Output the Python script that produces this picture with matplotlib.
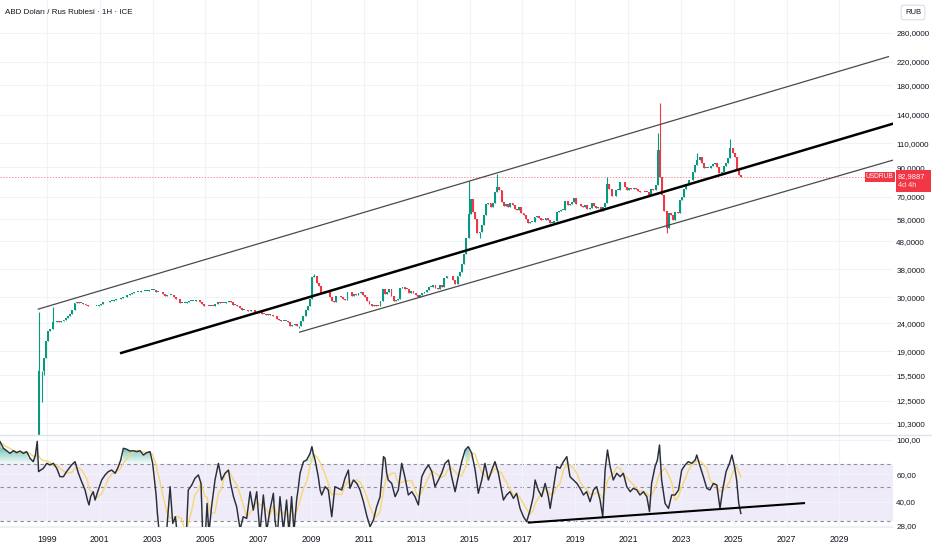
import numpy as np
import matplotlib
matplotlib.use("Agg")
import matplotlib.pyplot as plt
from matplotlib.lines import Line2D
from matplotlib.patches import Rectangle
from matplotlib.ticker import NullLocator

plt.rcParams['font.family'] = ['Liberation Sans', 'DejaVu Sans']

# ---------------- data ----------------
# USD/RUB monthly closes, Jan 1997 .. Apr 2025
monthly_close = [
    5.63, 5.68, 5.72, 5.76, 5.78, 5.79, 5.80, 5.83, 5.86, 5.89, 5.92, 5.96,      # 1997
    6.03, 6.07, 6.11, 6.13, 6.16, 6.20, 6.24, 7.90, 16.0, 16.0, 17.9, 20.7,      # 1998
    22.6, 22.9, 24.2, 24.2, 24.4, 24.2, 24.4, 24.7, 25.1, 25.6, 26.0, 27.0,      # 1999
    28.5, 28.7, 28.5, 28.5, 28.3, 28.1, 27.8, 27.75, 27.75, 27.85, 27.85, 28.16, # 2000
    28.4, 28.7, 28.7, 28.8, 29.1, 29.1, 29.3, 29.4, 29.4, 29.7, 29.9, 30.1,      # 2001
    30.5, 30.9, 31.1, 31.2, 31.3, 31.4, 31.5, 31.6, 31.6, 31.7, 31.8, 31.8,      # 2002
    31.8, 31.4, 31.4, 31.2, 30.8, 30.3, 30.4, 30.6, 30.6, 29.9, 29.6, 29.45,     # 2003
    28.5, 28.5, 28.5, 28.8, 29.0, 29.05, 29.1, 29.2, 29.2, 28.8, 28.4, 27.75,    # 2004
    27.9, 27.8, 27.9, 27.8, 28.2, 28.7, 28.6, 28.5, 28.5, 28.7, 28.9, 28.8,      # 2005
    28.1, 28.1, 27.7, 27.3, 27.0, 27.0, 26.8, 26.7, 26.8, 26.8, 26.4, 26.3,      # 2006
    26.5, 26.1, 26.0, 25.8, 25.9, 25.8, 25.5, 25.6, 24.9, 24.8, 24.5, 24.5,      # 2007
    24.6, 24.3, 23.5, 23.6, 23.8, 23.4, 23.4, 24.6, 25.6, 27.0, 27.9, 29.4,      # 2008
    35.4, 36.0, 33.9, 33.0, 31.0, 31.1, 31.5, 31.6, 30.1, 29.0, 28.8, 30.2,      # 2009
    30.3, 29.9, 29.4, 29.3, 31.2, 31.2, 30.2, 30.7, 30.5, 31.0, 31.3, 30.5,      # 2010
    30.0, 28.9, 28.4, 27.9, 28.0, 27.9, 27.8, 29.0, 32.2, 30.7, 31.2, 32.2,      # 2011
    30.3, 28.9, 29.3, 29.5, 32.5, 32.8, 32.2, 32.1, 31.1, 31.5, 31.0, 30.4,      # 2012
    30.0, 30.6, 31.1, 31.2, 31.9, 32.7, 32.8, 33.1, 32.4, 32.0, 33.2, 32.8,      # 2013
    35.2, 36.0, 35.7, 35.7, 34.6, 33.6, 35.7, 37.0, 39.6, 43.0, 49.5, 60.7,      # 2014
    69.0, 61.6, 58.2, 51.5, 52.0, 55.4, 59.9, 65.9, 66.2, 64.0, 66.6, 73.0,      # 2015
    75.8, 74.5, 67.2, 64.8, 65.9, 64.0, 66.5, 65.3, 63.2, 62.9, 64.2, 61.0,      # 2016
    60.0, 58.3, 56.2, 56.7, 56.8, 59.0, 59.7, 58.8, 57.7, 57.6, 58.4, 57.5,      # 2017
    56.3, 56.3, 57.3, 61.8, 62.0, 62.8, 62.9, 67.5, 65.6, 65.9, 66.9, 69.5,      # 2018
    65.7, 65.9, 64.8, 64.5, 65.3, 63.1, 63.6, 66.7, 64.7, 63.9, 64.3, 62.0,      # 2019
    64.0, 66.6, 78.0, 74.6, 70.4, 70.7, 74.2, 74.3, 79.1, 79.5, 76.3, 74.0,      # 2020
    75.7, 75.0, 75.7, 75.1, 73.5, 72.7, 73.2, 73.1, 72.9, 71.1, 74.7, 74.3,      # 2021
    77.5, 104.0, 83.0, 71.0, 62.0, 54.0, 61.0, 60.0, 57.5, 61.5, 61.0, 68.0,     # 2022
    70.1, 75.0, 77.5, 80.5, 80.9, 86.5, 91.6, 96.0, 98.0, 93.2, 89.3, 89.5,      # 2023
    89.6, 91.2, 92.4, 93.0, 90.5, 86.0, 86.5, 91.0, 93.0, 97.5, 106.0, 101.5,    # 2024
    98.0, 88.0, 84.5, 82.9887,                                                   # 2025
]
first_year = 1997

wick_high_months = ['1998-09', '1999-03', '2009-02', '2014-12', '2016-01',
                    '2020-03', '2022-02', '2022-03', '2023-08', '2024-11']
wick_high_values = [26.5, 27.5, 36.5, 80.0, 85.0, 83.0, 120.0, 155.0, 101.5, 114.0]
wick_low_months = ['1998-10', '1998-11', '2008-07', '2015-05', '2022-06']
wick_low_values = [12.3, 15.5, 23.0, 49.3, 51.5]

last_price = 82.9887

# RSI
rsi_years = [
    1997.22, 1997.35, 1997.47, 1997.60, 1997.73, 1997.85, 1997.98, 1998.10, 1998.23, 1998.36,
    1998.48, 1998.56, 1998.63, 1998.68, 1998.76, 1998.86, 1998.99, 1999.11, 1999.24, 1999.37,
    1999.49, 1999.62, 1999.74, 1999.93, 2000.06, 2000.19, 2000.31, 2000.44, 2000.53, 2000.59,
    2000.65, 2000.75, 2000.82, 2000.94, 2001.07, 2001.20, 2001.32, 2001.45, 2001.58, 2001.70,
    2001.79, 2001.89, 2002.02, 2002.14, 2002.27, 2002.40, 2002.52, 2002.65, 2002.77, 2002.90,
    2003.00, 2003.06, 2003.13, 2003.18, 2003.25, 2003.41, 2003.53, 2003.66, 2003.76, 2003.86,
    2003.94, 2004.10, 2004.26, 2004.35, 2004.48, 2004.60, 2004.73, 2004.83, 2004.89, 2004.98,
    2005.06, 2005.13, 2005.23, 2005.36, 2005.49, 2005.61, 2005.74, 2005.87, 2005.95, 2006.06,
    2006.18, 2006.31, 2006.43, 2006.56, 2006.69, 2006.81, 2006.94, 2007.06, 2007.19, 2007.32,
    2007.44, 2007.57, 2007.63, 2007.72, 2007.82, 2007.95, 2008.07, 2008.16, 2008.26, 2008.35,
    2008.45, 2008.52, 2008.58, 2008.71, 2008.83, 2008.96, 2009.03, 2009.08, 2009.15, 2009.21,
    2009.27, 2009.34, 2009.40, 2009.53, 2009.65, 2009.78, 2009.90, 2010.03, 2010.16, 2010.28,
    2010.41, 2010.47, 2010.60, 2010.73, 2010.85, 2010.98, 2011.10, 2011.23, 2011.36, 2011.48,
    2011.61, 2011.74, 2011.80, 2011.86, 2011.92, 2012.05, 2012.18, 2012.30, 2012.43, 2012.56,
    2012.68, 2012.81, 2012.93, 2013.06, 2013.19, 2013.31, 2013.44, 2013.57, 2013.69, 2013.82,
    2013.94, 2014.07, 2014.20, 2014.32, 2014.45, 2014.57, 2014.70, 2014.83, 2014.95, 2015.08,
    2015.21, 2015.33, 2015.46, 2015.58, 2015.71, 2015.84, 2015.96, 2016.09, 2016.21, 2016.28,
    2016.40, 2016.53, 2016.66, 2016.78, 2016.91, 2017.04, 2017.16, 2017.29, 2017.41, 2017.48,
    2017.60, 2017.73, 2017.86, 2017.98, 2018.05, 2018.17, 2018.30, 2018.42, 2018.55, 2018.68,
    2018.80, 2018.93, 2019.06, 2019.18, 2019.31, 2019.43, 2019.56, 2019.69, 2019.81, 2019.94,
    2020.04, 2020.13, 2020.22, 2020.32, 2020.44, 2020.57, 2020.70, 2020.82, 2020.95, 2021.08,
    2021.20, 2021.33, 2021.45, 2021.58, 2021.71, 2021.81, 2021.89, 2022.02, 2022.11, 2022.19,
    2022.27, 2022.40, 2022.53, 2022.65, 2022.78, 2022.91, 2023.03, 2023.16, 2023.28, 2023.41,
    2023.54, 2023.60, 2023.73, 2023.85, 2023.98, 2024.10, 2024.23, 2024.36, 2024.48, 2024.58,
    2024.71, 2024.84, 2024.93, 2025.03, 2025.11, 2025.19, 2025.27,
]
rsi_values = [
    97.5, 88.4, 85.3, 82.0, 85.3, 82.8, 84.9, 82.0, 84.1, 76.1,
    72.5, 80.0, 98.0, 62.5, 64.0, 65.6, 70.7, 69.0, 70.7, 65.6,
    58.0, 58.0, 62.5, 69.0, 72.5, 61.0, 53.9, 47.6, 41.0, 38.1,
    43.1, 46.4, 41.0, 47.6, 55.2, 59.5, 62.5, 64.0, 61.0, 67.3,
    74.3, 88.4, 87.1, 84.9, 85.3, 84.1, 85.3, 80.0, 82.8, 84.1,
    70.7, 56.6, 44.2, 33.6, 25.0, 22.0, 26.0, 50.0, 29.0, 32.0,
    24.0, 20.0, 22.0, 47.6, 51.2, 56.6, 59.5, 52.5, 26.0, 22.0,
    39.0, 25.0, 37.1, 55.2, 70.7, 55.2, 61.0, 64.0, 52.5, 43.1,
    37.1, 26.5, 32.0, 31.2, 46.4, 35.3, 46.4, 25.0, 44.2, 26.0,
    35.3, 45.3, 30.5, 24.0, 43.1, 26.0, 41.0, 25.0, 43.1, 25.5,
    41.0, 50.0, 61.0, 72.5, 74.3, 82.0, 90.6, 82.0, 74.3, 65.6,
    58.0, 47.6, 44.2, 50.0, 47.6, 32.0, 50.0, 48.8, 47.6, 56.6,
    64.0, 48.8, 55.2, 52.5, 47.6, 40.0, 32.8, 27.6, 30.5, 37.1,
    43.1, 78.1, 76.1, 61.0, 55.2, 52.5, 43.1, 47.6, 70.7, 56.6,
    44.2, 46.4, 43.1, 38.1, 58.0, 64.0, 69.0, 62.5, 50.0, 55.2,
    61.0, 70.7, 74.3, 58.0, 46.4, 58.0, 72.5, 86.2, 90.6, 82.0,
    64.0, 45.3, 55.2, 70.7, 55.2, 64.0, 72.5, 61.0, 47.6, 41.0,
    44.2, 46.4, 42.0, 45.3, 36.2, 32.0, 29.7, 35.3, 43.1, 55.2,
    47.6, 43.1, 52.5, 43.1, 36.2, 48.8, 67.3, 65.6, 72.5, 78.1,
    58.0, 55.2, 52.5, 48.8, 44.2, 46.4, 40.0, 47.6, 50.0, 41.0,
    32.0, 64.0, 86.2, 67.3, 55.2, 61.0, 58.0, 61.0, 50.0, 46.4,
    48.8, 47.6, 44.2, 46.4, 43.1, 34.5, 52.5, 67.3, 74.3, 92.8,
    55.2, 39.0, 36.2, 44.2, 44.2, 47.6, 64.0, 69.0, 72.5, 70.7,
    74.3, 80.0, 67.3, 58.0, 48.8, 47.6, 52.5, 51.2, 36.2, 47.6,
    62.5, 70.7, 80.0, 67.3, 55.2, 39.0, 33.6,
]

# drawn trend lines (start/end as date, value)
upper_channel = ([1998.648, 2030.88], [27.05, 229.6])
mid_channel = ([2001.764, 2031.2], [18.64, 131.5])
lower_channel = ([2008.542, 2031.2], [22.27, 96.6])
rsi_trend = ([2017.20, 2027.70], [29.3, 39.2])

price_ticks = [280, 220, 180, 140, 110, 90, 70, 58, 48, 38, 30, 24, 19, 15.5, 12.5, 10.3]
rsi_ticks = [100, 60, 40, 28]
year_ticks = list(range(1999, 2030, 2))

# ---------------- figure ----------------
W, H = 932, 550
fig = plt.figure(figsize=(W / 100, H / 100), dpi=100)
PR = 893


def fx(px):
    return px / W


def fy(py):
    return 1 - py / H


ax = fig.add_axes([0, fy(435), fx(PR), 435 / H])
axr = fig.add_axes([0, fy(527), fx(PR), (527 - 435) / H])

GREEN = '#089981'
RED = '#f23645'
GRID = '#f0f3fa'
TXT = '#131722'

XMIN, XMAX = 1997.22, 2031.03

# ---- price pane ----
closes = np.array(monthly_close, dtype=float)
n = len(closes)
t = first_year + (np.arange(n) + 0.5) / 12.0
opens = np.concatenate([[closes[0]], closes[:-1]])
highs = np.maximum(opens, closes)
lows = np.minimum(opens, closes)


def midx(s):
    y, m = s.split('-')
    return (int(y) - first_year) * 12 + int(m) - 1


for s, v in zip(wick_high_months, wick_high_values):
    i = midx(s)
    highs[i] = max(highs[i], v)
for s, v in zip(wick_low_months, wick_low_values):
    i = midx(s)
    lows[i] = min(lows[i], v)

up = closes >= opens
cols = np.where(up, GREEN, RED)
body_lo = np.minimum(opens, closes)
body_hi = np.maximum(opens, closes)
body_hi = np.where(body_hi / body_lo < 1.006, body_lo * 1.006, body_hi)

ax.set_yscale('log')
ax.vlines(t, lows, highs, colors=cols, lw=0.8, zorder=3)
ax.bar(t, body_hi - body_lo, bottom=body_lo, width=0.072, color=cols, lw=0, zorder=3)

ax.plot(*upper_channel, color='#4a4a4a', lw=0.9, zorder=4, solid_capstyle='butt')
ax.plot(*mid_channel, color='#000000', lw=1.8, zorder=4, solid_capstyle='butt')
ax.plot(*lower_channel, color='#4a4a4a', lw=0.9, zorder=4, solid_capstyle='butt')
ax.axhline(last_price, color=RED, lw=0.6, ls=(0, (1.5, 2)), alpha=0.7, zorder=2)

ax.set_xlim(XMIN, XMAX)
ax.set_ylim(9.34, 370.2)
ax.yaxis.tick_right()
ax.set_yticks(price_ticks)
ax.set_yticklabels([f"{v:.4f}".replace('.', ',') for v in price_ticks])
ax.yaxis.set_minor_locator(NullLocator())
ax.set_xticks(year_ticks)
ax.set_xticklabels([])
ax.tick_params(axis='y', length=0, pad=2.3, labelsize=5.8, labelcolor=TXT)
ax.tick_params(axis='x', length=0)
ax.grid(True, color=GRID, lw=0.8, zorder=0)
for sp in ax.spines.values():
    sp.set_visible(False)

# ---- RSI pane ----
ry = np.array(rsi_years)
rv = np.array(rsi_values)
# RSI-based moving average (trailing window)
ma = np.array([rv[(ry > y - 0.5) & (ry <= y)].mean() for y in ry])

axr.set_yscale('log')
axr.axhspan(30, 70, color='#efebf8', lw=0, zorder=0)
for lvl in (70, 50, 30):
    axr.axhline(lvl, color='#8a8d96', lw=0.8, ls=(0, (3, 3)), zorder=1)

# overbought gradient fill
levels = np.linspace(70, 100, 21)
for k in range(len(levels) - 1):
    a, b = levels[k], levels[k + 1]
    alpha = min(0.75, 0.05 + 0.9 * (a - 70) / 30)
    axr.fill_between(ry, a, np.minimum(rv, b), where=rv > a, interpolate=True,
                     color=GREEN, alpha=alpha, lw=0, zorder=1.5)

axr.plot(ry, ma, color='#f7d774', lw=1.0, zorder=2)
axr.plot(ry, rv, color='#2a2e39', lw=1.05, zorder=3)
axr.plot(*rsi_trend, color='#000000', lw=1.5, zorder=4, solid_capstyle='butt')

axr.set_xlim(XMIN, XMAX)
axr.set_ylim(27.47, 107.7)
axr.yaxis.tick_right()
axr.set_yticks(rsi_ticks)
axr.set_yticklabels([f"{v:.2f}".replace('.', ',') for v in rsi_ticks])
axr.yaxis.set_minor_locator(NullLocator())
axr.set_xticks(year_ticks)
axr.set_xticklabels([str(y) for y in year_ticks])
axr.tick_params(axis='y', length=0, pad=2.3, labelsize=5.8, labelcolor=TXT)
axr.tick_params(axis='x', length=0, pad=6, labelsize=6.3, labelcolor=TXT)
axr.grid(True, axis='x', color=GRID, lw=0.8, zorder=0)
axr.grid(True, axis='y', color=GRID, lw=0.8, zorder=0)
for sp in axr.spines.values():
    sp.set_visible(False)

# pane separators
fig.add_artist(Line2D([0, 1], [fy(435), fy(435)], color='#e0e3eb', lw=1.0))
fig.add_artist(Line2D([0, fx(PR)], [fy(527), fy(527)], color='#eceef2', lw=0.8))

# title
fig.text(fx(5), fy(12), 'ABD Doları / Rus Rublesi · 1H · ICE', fontsize=5.8,
         color=TXT, va='center', ha='left')

# RUB box
fig.text(fx(913), fy(12.5), 'RUB', fontsize=5.5, color=TXT, ha='center', va='center',
         bbox=dict(boxstyle='round,pad=0.5,rounding_size=0.3', fc='white', ec='#d1d4dc', lw=0.6))

# price labels
fig.add_artist(Rectangle((fx(864.5), fy(181.8)), fx(894.5) - fx(864.5), (181.8 - 171.5) / H,
                         transform=fig.transFigure, facecolor=RED, edgecolor='none', zorder=10))
fig.text(fx(879.5), fy(176.8), 'USDRUB', fontsize=4.8, color='white', ha='center', va='center',
         zorder=11)
fig.add_artist(Rectangle((fx(896), fy(191.5)), fx(931) - fx(896), (191.5 - 170.3) / H,
                         transform=fig.transFigure, facecolor=RED, edgecolor='none', zorder=10))
fig.text(fx(898), fy(176.3), f"{last_price:.4f}".replace('.', ','), fontsize=5.4, color='white',
         ha='left', va='center', zorder=11)
fig.text(fx(898), fy(185.8), '4d 4h', fontsize=5.3, color='#ffe0e3', ha='left', va='center',
         zorder=11)

fig.savefig('out.png', dpi=100, facecolor='white')
